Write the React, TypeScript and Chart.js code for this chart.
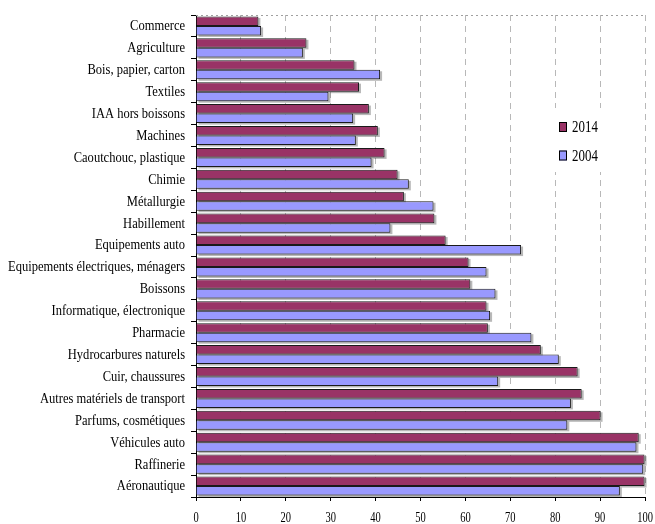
import React, { useEffect, useRef } from "react";
import { Chart, registerables } from "chart.js";

Chart.register(...registerables);

const categories = [
  "Commerce",
  "Agriculture",
  "Bois, papier, carton",
  "Textiles",
  "IAA hors boissons",
  "Machines",
  "Caoutchouc, plastique",
  "Chimie",
  "Métallurgie",
  "Habillement",
  "Equipements auto",
  "Equipements électriques, ménagers",
  "Boissons",
  "Informatique, électronique",
  "Pharmacie",
  "Hydrocarbures naturels",
  "Cuir, chaussures",
  "Autres matériels de transport",
  "Parfums, cosmétiques",
  "Véhicules auto",
  "Raffinerie",
  "Aéronautique",
];

const values2014 = [
  13.9, 24.6, 35.3, 36.3, 38.5, 40.5, 42.0, 44.9, 46.3, 53.1, 55.6, 60.7, 61.1,
  64.7, 65.0, 76.8, 85.0, 85.9, 90.1, 98.6, 99.9, 99.9,
];

const values2004 = [
  14.5, 23.8, 41.0, 29.5, 35.0, 35.6, 39.1, 47.4, 52.9, 43.3, 72.4, 64.7, 66.7,
  65.5, 74.7, 80.8, 67.3, 83.5, 82.7, 98.1, 99.6, 94.4,
];

const seriesNames = ["2014", "2004"];
const seriesColors = ["#993366", "#9999FF"];
const xTicks = [0, 10, 20, 30, 40, 50, 60, 70, 80, 90, 100];

const FONT = '"Liberation Serif", "Times New Roman", serif';

const drawPlugin = {
  id: "customDraw",
  beforeDatasetsDraw(chart: any) {
    const ctx = chart.ctx;
    ctx.save();
    ctx.fillStyle = "rgba(0,0,0,0.28)";
    chart.data.datasets.forEach((_d: any, di: number) => {
      const meta = chart.getDatasetMeta(di);
      meta.data.forEach((el: any) => {
        const p = el.getProps(["x", "y", "base", "height"], true);
        const x0 = Math.min(p.base, p.x);
        const w = Math.abs(p.x - p.base);
        ctx.fillRect(x0 + 2, p.y - p.height / 2 + 1.5, w, p.height);
      });
    });
    ctx.restore();
  },
  afterDraw(chart: any) {
    const ctx = chart.ctx;
    const area = chart.chartArea;
    const xs = chart.scales.x;
    const ys = chart.scales.y;
    ctx.save();

    // top dotted border
    ctx.strokeStyle = "#a0a0a0";
    ctx.lineWidth = 1;
    ctx.setLineDash([2, 3]);
    ctx.beginPath();
    ctx.moveTo(area.left, area.top + 0.5);
    ctx.lineTo(area.right, area.top + 0.5);
    ctx.stroke();
    ctx.setLineDash([]);

    // y labels (condensed serif)
    ctx.fillStyle = "#000";
    ctx.font = "15px " + FONT;
    let maxW = 0;
    categories.forEach((c) => {
      maxW = Math.max(maxW, ctx.measureText(c).width);
    });
    const sy = 177 / maxW;
    ctx.textAlign = "right";
    ctx.textBaseline = "middle";
    categories.forEach((c, i) => {
      const y = ys.getPixelForValue(i);
      ctx.save();
      ctx.translate(area.left - 11, y + 0.5);
      ctx.scale(sy, 1);
      ctx.fillText(c, 0, 0);
      ctx.restore();
    });

    // x labels
    ctx.font = "15px " + FONT;
    ctx.textAlign = "center";
    ctx.textBaseline = "middle";
    xTicks.forEach((v) => {
      const x = xs.getPixelForValue(v);
      ctx.save();
      ctx.translate(x, 518);
      ctx.scale(0.7, 1);
      ctx.fillText(String(v), 0, 0);
      ctx.restore();
    });

    // legend
    const lx = xs.getPixelForValue(79);
    const lTop = 108;
    ctx.fillStyle = "#fff";
    ctx.fillRect(lx - 4, lTop, 68, 64);
    seriesNames.forEach((name, i) => {
      const cy = 127 + i * 28.5;
      ctx.fillStyle = seriesColors[i];
      ctx.fillRect(559, cy - 5, 8, 10);
      ctx.strokeStyle = "#000";
      ctx.lineWidth = 1;
      ctx.strokeRect(559.5, cy - 4.5, 7, 9);
      ctx.fillStyle = "#000";
      ctx.font = "17px " + FONT;
      ctx.textAlign = "left";
      ctx.textBaseline = "middle";
      ctx.save();
      ctx.translate(572, cy + 1);
      ctx.scale(0.76, 1);
      ctx.fillText(name, 0, 0);
      ctx.restore();
    });

    ctx.restore();
  },
};

export default function App() {
  const canvasRef = useRef<HTMLCanvasElement | null>(null);

  useEffect(() => {
    if (!canvasRef.current) return;
    const chart = new Chart(canvasRef.current, {
      type: "bar",
      data: {
        labels: categories,
        datasets: [
          {
            label: seriesNames[0],
            data: values2014,
            backgroundColor: seriesColors[0],
            borderColor: "#1a1a1a",
            borderWidth: 1,
            categoryPercentage: 0.87,
            barPercentage: 1,
          },
          {
            label: seriesNames[1],
            data: values2004,
            backgroundColor: seriesColors[1],
            borderColor: "#1a1a1a",
            borderWidth: 1,
            categoryPercentage: 0.87,
            barPercentage: 1,
          },
        ],
      },
      options: {
        indexAxis: "y",
        responsive: true,
        maintainAspectRatio: false,
        animation: false,
        layout: { padding: { top: 15, right: 10, left: 0, bottom: 0 } },
        plugins: {
          legend: { display: false },
          tooltip: { enabled: false },
        },
        scales: {
          x: {
            type: "linear",
            min: 0,
            max: 100,
            ticks: { stepSize: 10, display: false },
            grid: {
              color: (c: any) => (c.index === 0 ? "rgba(0,0,0,0)" : "#b8b8b8"),
              tickColor: "#000",
              tickLength: 4,
              drawTicks: true,
            },
            border: { color: "#000", dash: [6, 5] },
            afterFit: (s: any) => {
              s.height = 27;
            },
          },
          y: {
            type: "category",
            ticks: { display: false },
            grid: {
              drawOnChartArea: false,
              drawTicks: true,
              tickLength: 5,
              tickColor: "#000",
              offset: true,
            },
            border: { color: "#000" },
            afterFit: (s: any) => {
              s.width = 196;
            },
          },
        },
      } as any,
      plugins: [drawPlugin],
    });
    return () => chart.destroy();
  }, []);

  return (
    <div
      style={{
        position: "fixed",
        left: 0,
        top: 0,
        width: 655,
        height: 524,
        background: "#fff",
      }}
    >
      <canvas ref={canvasRef} />
    </div>
  );
}
